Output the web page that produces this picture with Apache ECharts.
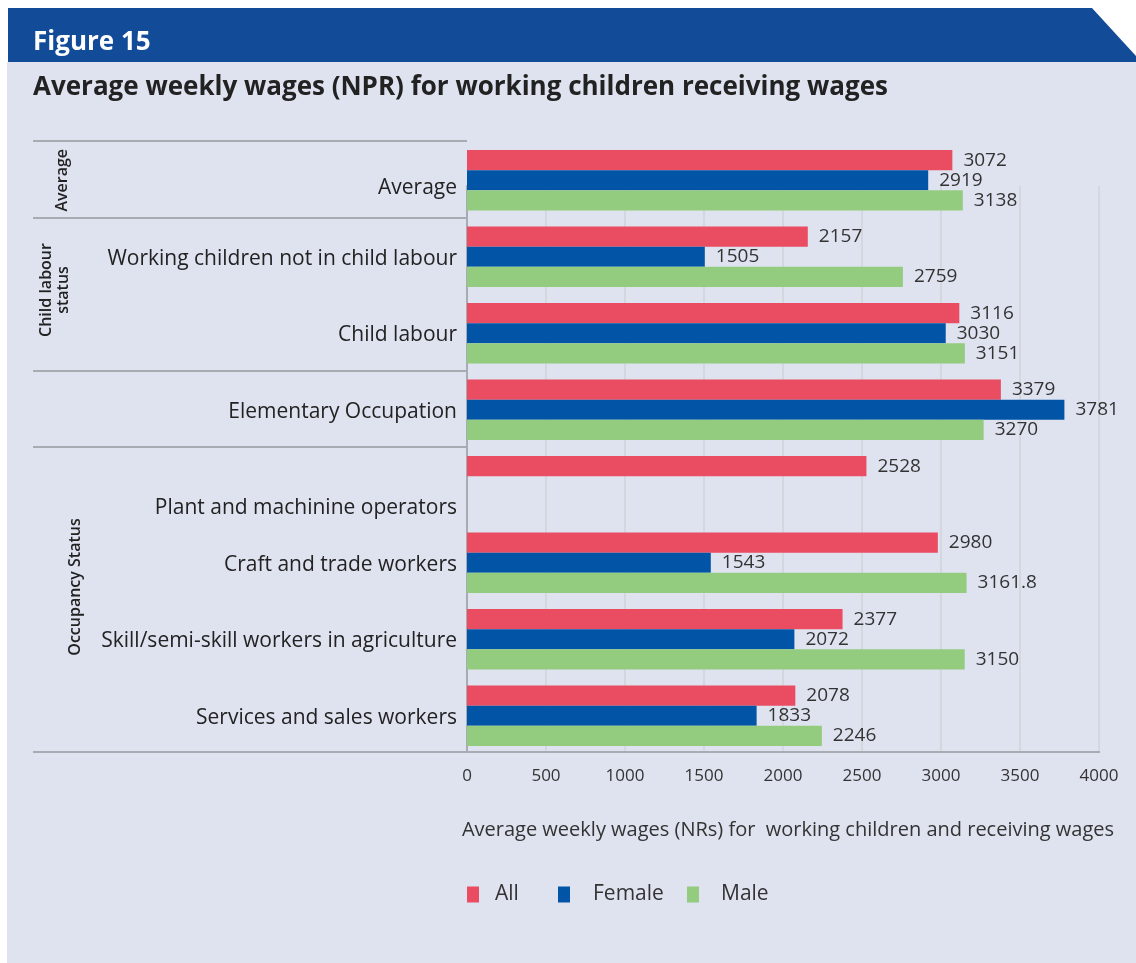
<!DOCTYPE html>
<html>
<head>
<meta charset="utf-8">
<script src="https://cdn.jsdelivr.net/npm/echarts@6/dist/echarts.min.js"></script>
<style>
html,body{margin:0;padding:0;background:#ffffff;}
#main{width:1136px;height:963px;}
</style>
</head>
<body>
<div id="main"></div>
<script>
const categories = [
  'Average',
  'Working children not in child labour',
  'Child labour',
  'Elementary Occupation',
  'Plant and machinine operators',
  'Craft and trade workers',
  'Skill/semi-skill workers in agriculture',
  'Services and sales workers'
];
const allValues    = [3072, 2157, 3116, 3379, 2528, 2980, 2377, 2078];
const femaleValues = [2919, 1505, 3030, 3781, null, 1543, 2072, 1833];
const maleValues   = [3138, 2759, 3151, 3270, null, 3161.8, 3150, 2246];
const seriesNames  = ['All', 'Female', 'Male'];
const xTicks = { min: 0, max: 4000, interval: 500 };
const groups = [
  { name: 'Average', from: 0, to: 0, x: 62, dy: 0 },
  { name: 'Child labour\nstatus', from: 1, to: 2, x: 55, dy: -5 },
  { name: 'Occupancy Status', from: 4, to: 7, x: 75, dy: -14 }
];
const separatorAt = [0, 1, 3, 4]; // category index whose top edge gets a rule

const colors = ['#ea4d62', '#0254a6', '#93cb7f'];
const FONT = '"Open Sans", "Noto Sans", sans-serif';
const GRID = { left: 467, right: 37, top: 142, bottom: 209 };

const chart = echarts.init(document.getElementById('main'), null, { renderer: 'canvas' });

const valueSeries = [allValues, femaleValues, maleValues];

const option = {
  backgroundColor: '#ffffff',
  animation: false,
  textStyle: { fontFamily: FONT },
  grid: [
    { left: GRID.left, right: GRID.right, top: GRID.top, bottom: GRID.bottom },
    { left: GRID.left, right: GRID.right, top: 186, bottom: 211 }
  ],
  xAxis: [
    {
      gridIndex: 0, type: 'value', min: xTicks.min, max: xTicks.max, interval: xTicks.interval,
      axisLine: { show: false }, axisTick: { show: false }, splitLine: { show: false },
      axisLabel: { fontSize: 17, color: '#333', margin: 14, fontFamily: FONT, formatter: function (v) { return String(v); } },
      name: 'Average weekly wages (NRs) for  working children and receiving wages',
      nameLocation: 'middle', nameGap: 66,
      nameTextStyle: { fontSize: 20, color: '#333', fontFamily: FONT, padding: [0, 0, 0, 10] }
    },
    {
      gridIndex: 1, type: 'value', min: xTicks.min, max: xTicks.max, interval: xTicks.interval,
      axisLine: { show: false }, axisTick: { show: false }, axisLabel: { show: false },
      splitLine: { show: true, lineStyle: { color: '#d5d7de', width: 2 } }
    }
  ],
  yAxis: [
    {
      gridIndex: 0, type: 'category', data: categories, inverse: true,
      axisLine: { show: false }, axisTick: { show: false },
      axisLabel: {
        fontSize: 21, color: '#222', margin: 10, lineHeight: 40, fontFamily: FONT,
        padding: [4, 0, 0, 0],
        formatter: function (v) {
          if (v === 'Plant and machinine operators') return '\n' + v;
          if (v === 'Average') return '{avg|' + v + '}';
          return v;
        },
        rich: { avg: { fontSize: 21, color: '#222', fontFamily: FONT, lineHeight: 24, padding: [12, 0, 0, 0] } }
      }
    },
    {
      gridIndex: 1, type: 'value', show: true,
      axisLine: { show: true, lineStyle: { color: '#a9abb3', width: 2 } },
      axisTick: { show: false }, axisLabel: { show: false }, splitLine: { show: false }
    }
  ],
  legend: seriesNames.map(function (n, i) {
    return {
      data: [n], left: [462, 553, 682][i], top: 879,
      itemWidth: 12, itemHeight: 16, icon: 'rect',
      textStyle: { fontSize: 21, color: '#333', fontFamily: FONT, padding: [0, 0, 0, [11, 18, 17][i]] }
    };
  }),
  series: seriesNames.map(function (n, i) {
    return {
      name: n, type: 'bar', xAxisIndex: 0, yAxisIndex: 0,
      data: valueSeries[i],
      itemStyle: { color: colors[i] },
      barGap: '0%', barCategoryGap: '21%',
      z: 3,
      label: {
        show: true, position: 'right', distance: 11,
        fontSize: 19, color: '#333', fontFamily: FONT
      }
    };
  })
};

chart.setOption(option);

// decorations computed from the axes
const bandCenter = function (i) { return chart.convertToPixel({ yAxisIndex: 0 }, categories[i]); };
const bw = bandCenter(1) - bandCenter(0);
const xLeftPix = chart.convertToPixel({ xAxisIndex: 0 }, xTicks.min);
const xRightPix = chart.convertToPixel({ xAxisIndex: 0 }, xTicks.max);
const ruleStyle = { stroke: '#a9abb3', lineWidth: 2 };

const graphics = [
  // lavender panel
  { type: 'rect', shape: { x: 7, y: 62, width: 1129, height: 901 }, style: { fill: '#dfe3f0' }, z: -10, silent: true },
  // header band
  { type: 'polygon', shape: { points: [[8, 8], [1092, 8], [1136, 56], [1136, 62], [8, 62]] }, style: { fill: '#124b97' }, z: -9, silent: true },
  { type: 'text', left: 33, top: 30, style: { text: 'Figure 15', fill: '#ffffff', font: 'bold 26px ' + FONT }, z: 10 },
  { type: 'text', left: 33, top: 75, style: { text: 'Average weekly wages (NPR) for working children receiving wages', fill: '#222222', font: 'bold 26px ' + FONT }, z: 10 }
];

separatorAt.forEach(function (i) {
  const y = Math.round(bandCenter(i) - bw / 2) - 1;
  graphics.push({ type: 'line', shape: { x1: 33, y1: y, x2: xLeftPix, y2: y }, style: ruleStyle, z: 5, silent: true });
});
// bottom rule (axis line)
const yBottom = Math.round(bandCenter(categories.length - 1) + bw / 2) - 2;
graphics.push({ type: 'line', shape: { x1: 33, y1: yBottom, x2: xRightPix + 1, y2: yBottom }, style: ruleStyle, z: 5, silent: true });

groups.forEach(function (g) {
  const yc = (bandCenter(g.from) + bandCenter(g.to)) / 2 + g.dy;
  graphics.push({
    type: 'text', x: g.x, y: yc, rotation: Math.PI / 2,
    style: { text: g.name, fill: '#222', font: '600 16px ' + FONT, textAlign: 'center', textVerticalAlign: 'middle', lineHeight: 17 },
    z: 10
  });
});

chart.setOption({ graphic: graphics });
</script>
</body>
</html>
